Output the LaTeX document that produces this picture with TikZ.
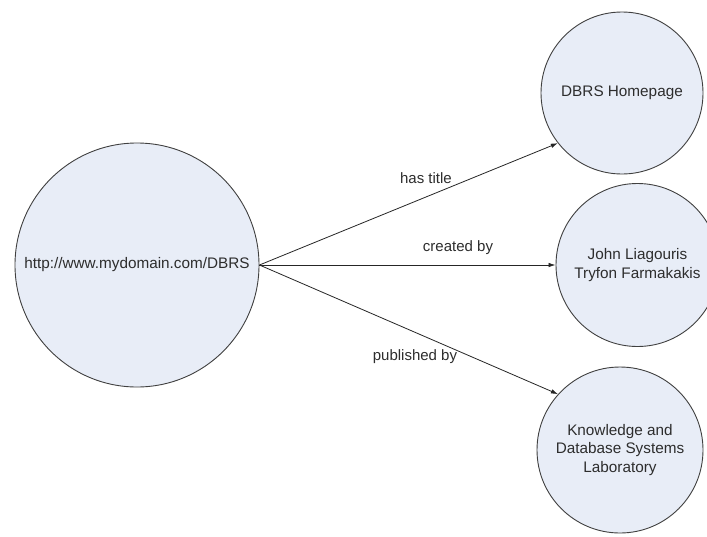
\documentclass[tikz,border=0pt]{standalone}
\usepackage{fontspec}
\setmainfont{Liberation Sans}
\usetikzlibrary{arrows.meta}
\definecolor{nodefill}{RGB}{232,237,247}
\definecolor{nodeline}{RGB}{64,64,64}
\definecolor{txt}{RGB}{45,45,45}
\begin{document}
\begin{tikzpicture}[x=1pt,y=-1pt,
  res/.style={circle,draw=nodeline,fill=nodefill,line width=0.9pt,inner sep=0pt,
    align=center,text=txt,font=\fontsize{15.3}{18.5}\selectfont},
  prop/.style={-{Latex[length=7pt,width=4.5pt]},draw=black!85,line width=0.8pt},
  lbl/.style={text=txt,font=\fontsize{15}{18}\selectfont,inner sep=0pt}]
\useasboundingbox (0,0) rectangle (707,536);
\fill[white] (0,0) rectangle (707,536);

% subject and object resources
\node[res,minimum size=244pt] (subj) at (137,265) {http://www.mydomain.com/DBRS};
\node[res,minimum size=162pt] (title) at (622,93) {DBRS Homepage};
\node[res,minimum size=163pt] (creator) at (637.5,265) {John Liagouris\\Tryfon Farmakakis};
\node[res,minimum size=166pt] (publisher) at (620,450) {Knowledge and\\Database Systems\\Laboratory};

% properties
\draw[prop] (subj.east) -- (title.218);
\draw[prop] (subj.east) -- (creator.west);
\draw[prop] (subj.east) -- (publisher.138);

\node[lbl] (l1) at (426,178) {has title};
\node[lbl] (l2) at (458,248) {created by};
\node[lbl] (l3) at (415,357) {published by};
\end{tikzpicture}
\end{document}
